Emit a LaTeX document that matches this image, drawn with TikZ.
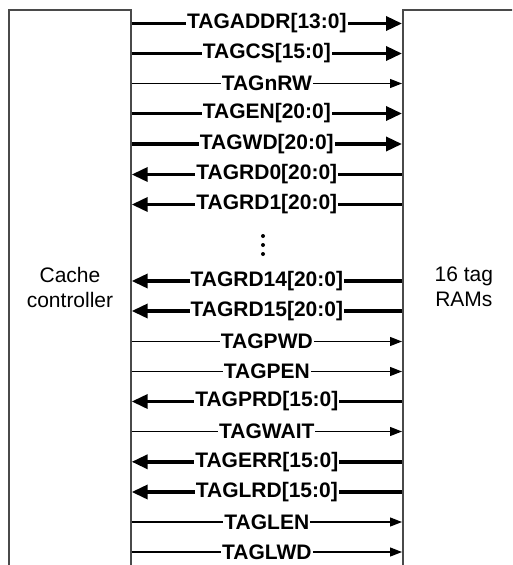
\documentclass[tikz,border=0pt]{standalone}
\usepackage{fontspec}
\setmainfont{Liberation Sans}
\usetikzlibrary{arrows.meta}
\definecolor{edge}{HTML}{4A4A4A}
\tikzset{
  blockbox/.style={draw=edge, line width=1.7pt, rectangle, inner sep=0pt,
    anchor=north west, minimum height=620pt},
  blocktext/.style={align=center, font=\fontsize{21}{25}\selectfont, inner sep=0pt},
  sig/.style={midway, fill=white, inner sep=1pt, font=\bfseries\fontsize{21}{21}\selectfont},
  busout/.style={line width=3.5pt, -{Triangle[length=16pt,width=14pt]}},
  busin/.style={line width=3.5pt, {Triangle[length=16pt,width=14pt]}-},
  wireout/.style={line width=1.2pt, -{Triangle[length=12pt,width=9pt]}},
}
\begin{document}
\begin{tikzpicture}[x=1pt, y=-1pt]
  \useasboundingbox (0,0) rectangle (512,565);
  \clip (0,0) rectangle (512,565);

  % the two blocks, open at the bottom edge
  \node[blockbox, minimum width=121.7pt] (cc) at (8.3,9) {};
  \node[blockbox, minimum width=122pt] (rams) at (402,9) {};
  \node[blocktext] (cctext) at (cc.north |- 0,287) {Cache\\controller};
  \node[blocktext] (ramstext) at (rams.north |- 0,287) {16 tag\\RAMs};

  % signal lines between the blocks
  \foreach \i/\y/\name/\kind in {
      1/23.5/{TAGADDR[13:0]}/busout,
      2/53.5/{TAGCS[15:0]}/busout,
      3/83.5/{TAGnRW}/wireout,
      4/113.5/{TAGEN[20:0]}/busout,
      5/144/{TAGWD[20:0]}/busout,
      6/174.5/{TAGRD0[20:0]}/busin,
      7/204.5/{TAGRD1[20:0]}/busin,
      8/281/{TAGRD14[20:0]}/busin,
      9/311/{TAGRD15[20:0]}/busin,
      10/341.5/{TAGPWD}/wireout,
      11/371.5/{TAGPEN}/wireout,
      12/401.5/{TAGPRD[15:0]}/busin,
      13/431.5/{TAGWAIT}/wireout,
      14/461.8/{TAGERR[15:0]}/busin,
      15/492/{TAGLRD[15:0]}/busin,
      16/522/{TAGLEN}/wireout,
      17/552/{TAGLWD}/wireout} {
    \path (cc.east |- 0,\y) coordinate (l\i)
          (rams.west |- 0,\y) coordinate (r\i);
    \draw[\kind] (l\i) -- node[sig] {\name} (r\i);
  }

  % vertical ellipsis for the omitted read buses
  \foreach \y in {236,245,254}
    \fill (263,\y) circle (2pt);
\end{tikzpicture}
\end{document}
